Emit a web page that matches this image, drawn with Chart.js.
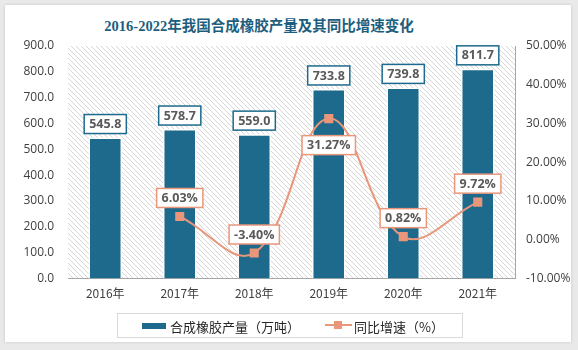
<!DOCTYPE html>
<html>
<head>
<meta charset="utf-8">
<script src="https://cdn.jsdelivr.net/npm/chart.js@4"></script>
<style>
body { margin: 0; background: #e9e9e9; width: 578px; height: 350px; overflow: hidden; }
#card { position: absolute; left: 5px; top: 5px; width: 566px; height: 337px; background: #fff; box-shadow: 0 0 3px rgba(0,0,0,0.15); }
#title { position: absolute; left: 0; width: 518px; top: 14px; text-align: center; font: bold 14.5px "Liberation Serif", "Noto Sans CJK SC", serif; color: #1d5e7e; }
#wrap { position: absolute; left: 0; top: 0; width: 578px; height: 350px; }
#legend { position: absolute; left: 117px; top: 313px; width: 344px; height: 23px; border: 1px solid #d9d9d9; font: 13px "Noto Sans CJK SC", sans-serif; color: #262626; }
.item { position: absolute; top: 3px; white-space: nowrap; }
.barsw { position: absolute; left: 24px; top: 9px; width: 24px; height: 6px; background: #1d6a8c; }
.linesw { position: absolute; left: 207px; top: 10px; width: 27px; height: 2px; background: #e9967a; }
.linesw::after { content: ""; position: absolute; left: 9px; top: -3px; width: 8px; height: 8px; background: #e9967a; }
</style>
</head>
<body>
<div id="card"></div>
<div id="title">2016-2022年我国合成橡胶产量及其同比增速变化</div>
<div id="wrap"><canvas id="myChart" width="578" height="350"></canvas></div>
<div id="legend">
  <div class="barsw"></div><div class="item" style="left:52px">合成橡胶产量（万吨）</div>
  <div class="linesw"></div><div class="item" style="left:236px">同比增速（%）</div>
</div>
<script>
const years = ['2016年', '2017年', '2018年', '2019年', '2020年', '2021年']
const output = [545.8, 578.7, 559.0, 733.8, 739.8, 811.7]
const growth = [null, 6.03, -3.40, 31.27, 0.82, 9.72]
const growthBelow = [false, false, false, true, false, false]

const ctx = document.getElementById('myChart');

// diagonal hatch for plot background
const pat = document.createElement('canvas')
pat.width = 5; pat.height = 5
const pc = pat.getContext('2d')
pc.strokeStyle = '#d6d6d6'
pc.lineWidth = 1
pc.beginPath()
pc.moveTo(0, 0); pc.lineTo(5, 5)
pc.moveTo(-1, 4); pc.lineTo(1, 6)
pc.moveTo(4, -1); pc.lineTo(6, 1)
pc.stroke()

const hatch = {
  id: 'hatch',
  beforeDraw(chart) {
    const a = chart.chartArea, c = chart.ctx
    c.save()
    c.fillStyle = c.createPattern(pat, 'repeat')
    c.fillRect(a.left, a.top, a.right - a.left, a.bottom - a.top)
    c.restore()
  }
}

function box(c, text, x, y, border) {
  c.font = 'bold 12.5px "Open Sans", sans-serif'
  const w = c.measureText(text).width + 10, h = 19
  c.fillStyle = '#fff'
  c.fillRect(x - w / 2, y, w, h)
  c.strokeStyle = border
  c.lineWidth = 1.5
  c.strokeRect(x - w / 2, y, w, h)
  c.fillStyle = '#595959'
  c.textAlign = 'center'
  c.textBaseline = 'middle'
  c.fillText(text, x, y + h / 2 + 0.5)
}

const labels = {
  id: 'labels',
  afterDatasetsDraw(chart) {
    const c = chart.ctx
    c.save()
    chart.getDatasetMeta(1).data.forEach((b, i) => {
      box(c, output[i].toFixed(1), b.x, b.y - 23, '#1d6a8c')
    })
    chart.getDatasetMeta(0).data.forEach((p, i) => {
      if (growth[i] == null) return
      const y = growthBelow[i] ? p.y + 17 : p.y - 28
      box(c, growth[i].toFixed(2) + '%', p.x, y, '#e9967a')
    })
    c.restore()
  }
}

const chart_1 = new Chart(ctx, {
  type: 'bar',
  data: {
    labels: years,
    datasets: [{
      type: 'line',
      label: '同比增速（%）',
      data: growth,
      yAxisID: 'y1',
      borderColor: '#e9967a',
      backgroundColor: '#e9967a',
      borderWidth: 2,
      tension: 0.4,
      pointStyle: 'rect',
      pointRadius: 5,
      pointHoverRadius: 5,
      order: 0
    }, {
      label: '合成橡胶产量（万吨）',
      data: output,
      yAxisID: 'y',
      backgroundColor: '#1d6a8c',
      borderColor: '#ffffff',
      borderWidth: 1.5,
      barPercentage: 0.45,
      categoryPercentage: 1,
      order: 1
    }]
  },
  options: {
    responsive: false,
    animation: false,
    events: [],
    layout: { padding: { top: 46, bottom: 49, left: 0, right: 0 } },
    plugins: { legend: { display: false }, tooltip: { enabled: false } },
    scales: {
      x: {
        grid: { display: false },
        border: { color: '#a6a6a6' },
        ticks: { color: '#404040', font: { size: 12, family: '"Noto Sans CJK SC", sans-serif' }, padding: 0 }
      },
      y: {
        position: 'left',
        min: 0, max: 900,
        grid: { display: false, drawTicks: false },
        border: { display: false },
        ticks: { stepSize: 100, color: '#404040', font: { size: 12, family: '"Open Sans", sans-serif' }, padding: 14,
          callback: v => v.toFixed(1) },
        afterFit(s) { s.width = 68 }
      },
      y1: {
        position: 'right',
        min: -10, max: 50,
        grid: { display: false, drawOnChartArea: false, tickLength: 5, color: '#a6a6a6' },
        border: { color: '#a6a6a6' },
        ticks: { stepSize: 10, color: '#404040', font: { size: 12, family: '"Open Sans", sans-serif' }, padding: 6,
          callback: v => v.toFixed(2) + '%' },
        afterFit(s) { s.width = 63 }
      }
    }
  },
  plugins: [hatch, labels]
});
</script>
</body>
</html>
